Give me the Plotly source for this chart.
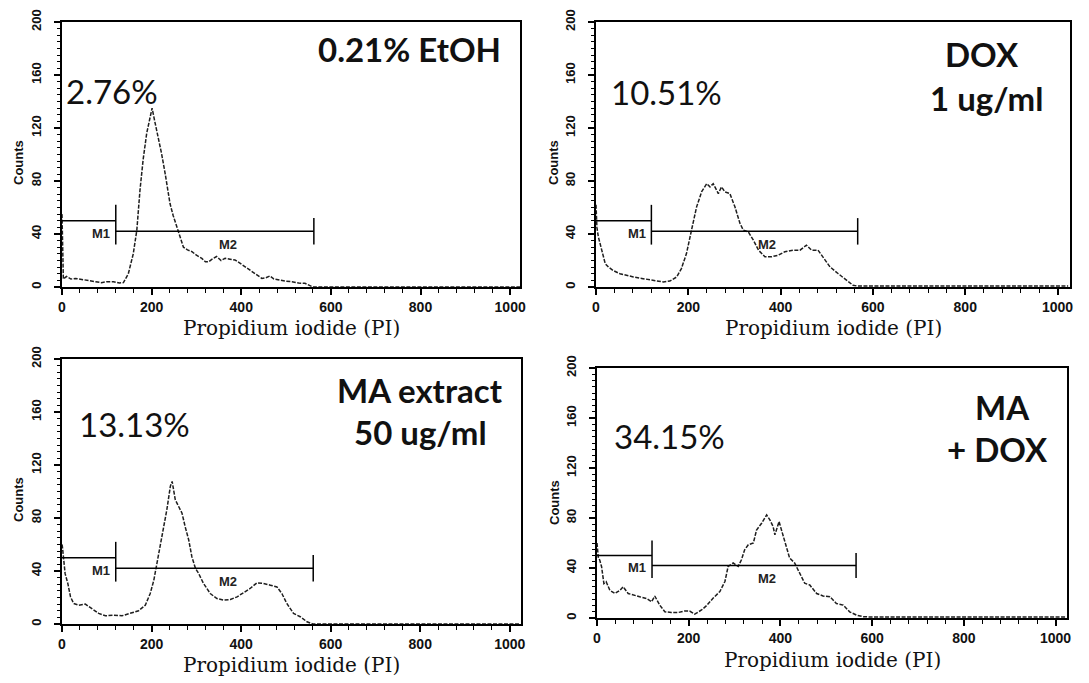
import plotly.graph_objects as go

W, H = 1089, 683

# ---------------- data ----------------
etoh_x = [0, 3, 10, 20, 30, 45, 59, 75, 88, 100, 115, 128, 137, 148, 159, 167, 174, 181, 189, 195,
          201, 207, 215, 222, 230, 241, 248, 254, 260, 271, 280, 290, 300, 312, 320, 327, 335, 345,
          355, 364, 375, 386, 397, 408, 420, 431, 440, 446, 455, 464, 473, 483, 498, 513, 528, 542,
          552, 560, 1023]
etoh_counts = [55, 6, 8, 6, 6.5, 5.5, 4.8, 4, 3.3, 4, 4, 3, 3.3, 10, 25, 43, 73, 96, 116, 126,
               135, 125, 113, 101, 86, 63, 54, 48, 42, 30, 28, 26.7, 24, 21.6, 19, 19, 21, 23,
               20, 21.6, 21, 20.4, 18, 15.3, 13, 10.3, 8, 6.5, 7, 8.3, 6, 5.3, 4.5, 4, 3, 2.8,
               1.5, 0, 0]

dox_x = [0, 2, 5, 12, 20, 27, 37, 52, 66, 81, 102, 124, 146, 160, 175, 185, 196, 207, 218, 229,
         240, 247, 254, 265, 272, 279, 290, 301, 312, 319, 330, 341, 352, 366, 380, 395, 409, 427,
         442, 456, 467, 481, 492, 507, 525, 543, 557, 565, 1023]
dox_counts = [62, 45, 38, 27.5, 17.6, 15, 12.5, 10, 8.8, 7.6, 6.3, 5, 3.8, 4.5, 7.6, 13.9, 25.2, 43,
              60.5, 72, 78, 75.6, 78, 70.5, 75.6, 71.8, 70.5, 60.5, 48, 43, 41.6, 35.4, 27.8, 22.8,
              22.8, 24, 26.6, 27.8, 27.8, 31.6, 27.8, 27.8, 22.8, 15.2, 10, 5, 1.3, 0.8, 0.8]

ma_x = [0, 1, 4, 7, 13, 19, 26, 37, 52, 67, 82, 97, 115, 134, 152, 171, 186, 197, 205, 212, 219,
        227, 234, 242, 246, 253, 260, 268, 275, 283, 290, 298, 305, 316, 331, 346, 361, 376, 391,
        405, 420, 435, 450, 465, 480, 491, 502, 517, 532, 547, 554, 560, 1023]
ma_counts = [60, 58, 48, 38, 30.6, 20.5, 15.5, 14.2, 15, 11.8, 8, 6.2, 6.7, 6.2, 8, 10, 14.2, 23,
             33, 45.8, 61, 73.5, 86, 104, 107.6, 93.7, 88.7, 83.6, 73.5, 63.4, 50.8, 42, 38.2,
             30.6, 23, 19.2, 18, 18.5, 20.5, 23.5, 26.8, 31, 30.6, 29.3, 28, 23, 15.5, 8, 5.5,
             1.7, 0.5, 0, 0]

madox_x = [0, 3, 6, 10, 15, 20, 28, 39, 50, 57, 68, 79, 93, 108, 119, 126, 137, 148, 162, 177,
           191, 202, 213, 228, 239, 253, 268, 279, 286, 297, 308, 315, 322, 330, 341, 348, 359,
           370, 377, 384, 388, 397, 406, 413, 420, 431, 442, 453, 464, 479, 493, 508, 522, 537,
           551, 566, 581, 600, 1023]
madox_counts = [60, 48, 46.3, 41, 27.6, 29, 22.2, 19.6, 22.2, 25, 19.6, 18.3, 17, 15.6, 13, 17.6,
                10.2, 5, 4.4, 4.4, 5.6, 5.5, 3.1, 6.4, 9.9, 15.8, 21.2, 29.2, 41.3, 44, 41.3, 46.6,
                54.6, 58.6, 60, 70.4, 75.8, 82.5, 78.5, 73.2, 66.5, 77.2, 65, 57.3, 48, 44, 36,
                27.8, 26.4, 19.6, 17.6, 17, 11.6, 10.3, 4.9, 2.3, 1, 0.8, 0.8]

percent_labels = ["2.76%", "10.51%", "13.13%", "34.15%"]
condition_labels = [["0.21% EtOH"], ["DOX", "1 ug/ml"], ["MA extract", "50 ug/ml"], ["MA", "+ DOX"]]
m1_range = [0, 120]
m1_level = 50
m2_start = 120
m2_end = [562, 567, 561, 565]
m2_level = 42
x_title = "Propidium iodide (PI)"
y_title = "Counts"

series_x = [etoh_x, dox_x, ma_x, madox_x]
series_y = [etoh_counts, dox_counts, ma_counts, madox_counts]

# ---------------- layout geometry (pixels) ----------------
# (left, right, top, bottom, xmax)
boxes = [(62, 520, 22, 287, 1022),
         (596, 1070, 22, 287, 1027),
         (62, 521, 359, 624, 1025),
         (597, 1067, 368, 618, 1025)]
pct_pos = [(112, 91), (666, 92), (134, 424), (669, 436)]
cond_pos = [[(409, 49)], [(982, 54), (986, 98)], [(420, 390), (420, 432)], [(1002, 407), (997, 449)]]
counts_pos = [(19, 163), (554, 163), (18, 500), (554, 503)]
xtitle_y = [328, 328, 665, 660]


def px(x):
    return x / W


def py(y):
    return 1 - y / H


fig = go.Figure()
annotations = []
centered = dict(xanchor="center", yanchor="middle", showarrow=False)

for i in range(4):
    l, r, t, b, xmax = boxes[i]
    xa = "x" if i == 0 else f"x{i+1}"
    ya = "y" if i == 0 else f"y{i+1}"
    xkey = "xaxis" if i == 0 else f"xaxis{i+1}"
    ykey = "yaxis" if i == 0 else f"yaxis{i+1}"

    fig.add_trace(go.Scatter(
        x=series_x[i], y=series_y[i], mode="lines", xaxis=xa, yaxis=ya,
        line=dict(color="#1e1e1e", width=1.5, dash="4px,1.5px"),
        showlegend=False, hoverinfo="skip"))

    bar_line = dict(color="black", width=1.5)
    # M1 bar
    fig.add_trace(go.Scatter(x=[m1_range[0], m1_range[1]], y=[m1_level, m1_level], mode="lines",
                             xaxis=xa, yaxis=ya, line=bar_line, showlegend=False, hoverinfo="skip"))
    fig.add_trace(go.Scatter(x=[m1_range[1], m1_range[1]], y=[m2_level - 10, m1_level + 12],
                             mode="lines", xaxis=xa, yaxis=ya, line=bar_line, showlegend=False,
                             hoverinfo="skip"))
    # M2 bar
    fig.add_trace(go.Scatter(x=[m2_start, m2_end[i]], y=[m2_level, m2_level], mode="lines",
                             xaxis=xa, yaxis=ya, line=bar_line, showlegend=False, hoverinfo="skip"))
    fig.add_trace(go.Scatter(x=[m2_end[i], m2_end[i]], y=[m2_level - 10, m2_level + 10],
                             mode="lines", xaxis=xa, yaxis=ya, line=bar_line, showlegend=False,
                             hoverinfo="skip"))

    annotations.append(dict(x=88, y=40.5, xref=xa, yref=ya, text="M1", **centered,
                            font=dict(family="Liberation Sans", size=13, color="#222", weight="bold")))
    annotations.append(dict(x=370, y=32, xref=xa, yref=ya, text="M2", **centered,
                            font=dict(family="Liberation Sans", size=13, color="#222", weight="bold")))

    axis_common = dict(showline=True, linecolor="black", linewidth=1.6, mirror=True,
                       ticks="outside", tickcolor="black", tickwidth=1.6,
                       showgrid=False, zeroline=False, fixedrange=True)
    fig.update_layout(**{
        xkey: dict(domain=[px(l), px(r)], range=[0, xmax], anchor=ya, tick0=0, dtick=200,
                   ticklen=6,
                   tickfont=dict(family="Liberation Sans", size=14, color="#111", weight="bold"),
                   minor=dict(ticks="outside", dtick=40, tick0=0, ticklen=4, tickwidth=1.3,
                              tickcolor="black", showgrid=False),
                   **axis_common),
        ykey: dict(domain=[py(b), py(t)], range=[0, 200], anchor=xa, tick0=0, dtick=40,
                   ticklen=6, tickangle=-90, ticklabelstandoff=8,
                   tickfont=dict(family="Liberation Sans", size=13, color="#111", weight="bold"),
                   minor=dict(ticks="outside", dtick=5, tick0=0, ticklen=3, tickwidth=1.1,
                              tickcolor="black", showgrid=False),
                   **axis_common),
    })

    # percentage
    annotations.append(dict(x=px(pct_pos[i][0]), y=py(pct_pos[i][1]), xref="paper", yref="paper",
                            text=percent_labels[i], **centered,
                            font=dict(family="Lato", size=33, color="#111")))
    # condition labels
    for txt, (cx, cy) in zip(condition_labels[i], cond_pos[i]):
        annotations.append(dict(x=px(cx), y=py(cy), xref="paper", yref="paper", text=txt,
                                **centered,
                                font=dict(family="Lato", size=33, color="#111", weight="bold")))
    # axis titles
    annotations.append(dict(x=px(counts_pos[i][0]), y=py(counts_pos[i][1]), xref="paper",
                            yref="paper", text=y_title, textangle=-90, **centered,
                            font=dict(family="Liberation Sans", size=13, color="#111", weight="bold")))
    annotations.append(dict(x=px((l + r) / 2), y=py(xtitle_y[i]), xref="paper", yref="paper",
                            text=x_title, **centered,
                            font=dict(family="DejaVu Serif", size=20, color="#111")))

fig.update_layout(width=W, height=H, margin=dict(l=0, r=0, t=0, b=0),
                  paper_bgcolor="white", plot_bgcolor="white", template="none",
                  annotations=annotations, showlegend=False)

fig.write_html("out.html", include_plotlyjs=True, config={"displayModeBar": False})
